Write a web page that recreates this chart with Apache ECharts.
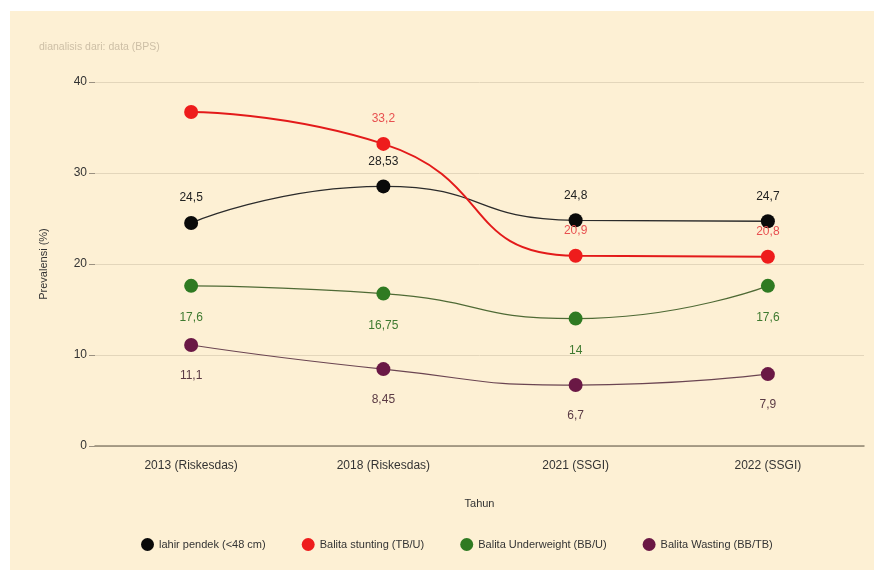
<!DOCTYPE html>
<html>
<head>
<meta charset="utf-8">
<script src="https://cdn.jsdelivr.net/npm/echarts@6/dist/echarts.min.js"></script>
<style>
html,body{margin:0;padding:0;background:#ffffff;}
#wrap{position:relative;width:874px;height:570px;}
#bg{position:absolute;left:10px;top:11px;right:0;bottom:0;background:#fdf0d4;}
#chart{position:absolute;left:0;top:0;width:874px;height:570px;}
</style>
</head>
<body>
<div id="wrap"><div id="bg"></div><div id="chart"></div></div>
<script>
var categories = ['2013 (Riskesdas)', '2018 (Riskesdas)', '2021 (SSGI)', '2022 (SSGI)'];
var seriesNames = ['lahir pendek (<48 cm)', 'Balita stunting (TB/U)', 'Balita Underweight (BB/U)', 'Balita Wasting (BB/TB)'];
var lahirPendek = [24.5, 28.53, 24.8, 24.7];
var stunting = [36.7, 33.2, 20.9, 20.8];
var underweight = [17.6, 16.75, 14, 17.6];
var wasting = [11.1, 8.45, 6.7, 7.9];
var yTicks = [0, 10, 20, 30, 40];
var subtitle = 'dianalisis dari: data (BPS)';

var markerColors = ['#0a0a0a', '#ee1c1c', '#2f7a22', '#6a1845'];
var lineColors = ['#2b2b2b', '#e31a1a', '#4f6a35', '#6b4552'];
var labelColors = ['#222222', '#e85050', '#3f7a30', '#5a3a44'];
var labelPos = ['top', 'top', 'bottom', 'bottom'];
var labelDist = [12, 12, 19, 18];
var lineWidths = [1.3, 2, 1.2, 1.2];
var allData = [lahirPendek, stunting, underweight, wasting];

function fmt(v){ return String(v).replace('.', ','); }

var series = allData.map(function(arr, i){
  return {
    name: seriesNames[i],
    type: 'line',
    smooth: 0.55,
    symbol: 'circle',
    symbolSize: 14,
    itemStyle: {color: markerColors[i]},
    lineStyle: {color: lineColors[i], width: lineWidths[i]},
    label: {
      show: true,
      position: labelPos[i],
      distance: labelDist[i],
      color: labelColors[i],
      fontSize: 12,
      formatter: function(p){ return fmt(p.value); }
    },
    data: arr.map(function(v, j){
      if (i === 1 && j === 0) return {value: v, label: {show: false}};
      return v;
    }),
    z: i === 1 ? 3 : 2
  };
});

var chart = echarts.init(document.getElementById('chart'), null, {renderer: 'canvas'});
chart.setOption({
  animation: false,
  backgroundColor: 'transparent',
  textStyle: {fontFamily: 'Liberation Sans, sans-serif'},
  title: {
    text: subtitle,
    left: 34, top: 37,
    textStyle: {fontSize: 10.5, fontWeight: 'normal', color: '#cdbfa6'}
  },
  grid: {left: 95, right: 10, top: 82, bottom: 124},
  legend: {
    data: seriesNames,
    left: 136, top: 533,
    icon: 'circle',
    itemWidth: 13, itemHeight: 13,
    itemGap: 36,
    textStyle: {fontSize: 11, color: '#333333'}
  },
  xAxis: {
    type: 'category',
    data: categories,
    boundaryGap: true,
    name: 'Tahun',
    nameLocation: 'middle',
    nameGap: 52,
    nameTextStyle: {fontSize: 11, color: '#333'},
    axisLine: {lineStyle: {color: '#8f8470', width: 1.5}},
    axisTick: {show: false},
    axisLabel: {fontSize: 12, color: '#333', margin: 14}
  },
  yAxis: {
    type: 'value',
    min: yTicks[0], max: yTicks[yTicks.length - 1], interval: 10,
    name: 'Prevalensi (%)',
    nameLocation: 'middle',
    nameGap: 46,
    nameTextStyle: {fontSize: 11, color: '#333'},
    axisLine: {show: false},
    axisTick: {show: true, length: 6, lineStyle: {color: '#9a9080'}},
    axisLabel: {fontSize: 12, color: '#333', margin: 8},
    splitLine: {lineStyle: {color: '#e3d6bb', width: 1}}
  },
  series: series
});
</script>
</body>
</html>
